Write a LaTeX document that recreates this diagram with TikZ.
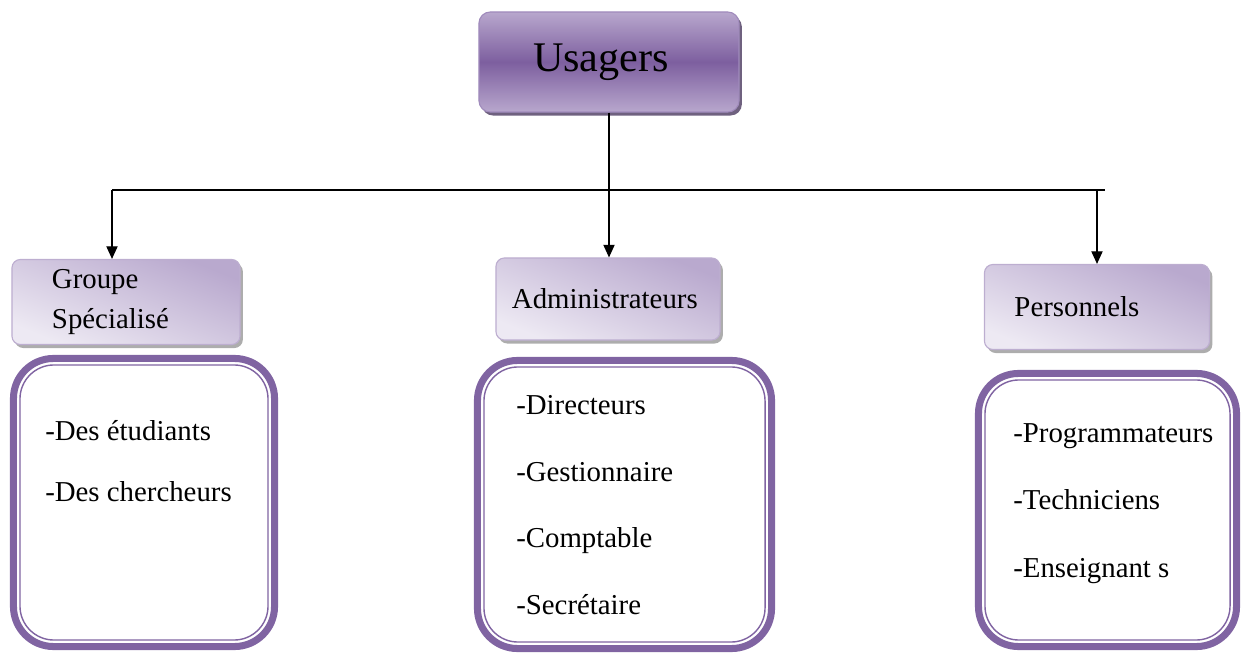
\documentclass[tikz,border=0pt]{standalone}
\usepackage{fontspec}
\setmainfont{Liberation Serif}
\usepackage{xcolor}
\usepackage{tikz}
\usetikzlibrary{arrows.meta,positioning,calc,shadows}

\definecolor{frameviolet}{HTML}{8064A2}
\definecolor{headlight}{HTML}{B8A7CD}
\definecolor{headdark}{HTML}{7D5F9F}
\definecolor{sublight}{HTML}{EDE9F3}
\definecolor{subdark}{HTML}{B9A9CE}
\definecolor{boxedge}{HTML}{A08BBC}

\begin{document}
\begin{tikzpicture}[
  x=0.025cm, y=-0.025cm,
  every node/.style={font=\fontsize{20.5}{28.5}\selectfont},
  headbox/.style={rectangle, draw=boxedge, line width=0.8pt, rounded corners=8pt,
    top color=headlight, bottom color=headlight, middle color=headdark,
    drop shadow={shadow xshift=2pt, shadow yshift=-2.5pt,
      fill=headdark!60!black, opacity=0.8},
    minimum width=6.5cm, minimum height=2.5cm,
    font=\fontsize{30}{36}\selectfont},
  subbox/.style={rectangle, draw=boxedge!70, line width=0.8pt, rounded corners=6pt,
    top color=subdark, bottom color=sublight, shading angle=-22,
    drop shadow={shadow xshift=2pt, shadow yshift=-2.5pt, fill=gray!80, opacity=0.8},
    align=left, inner ysep=0pt},
  frame/.style={rectangle, draw=frameviolet, line width=5pt, rounded corners=1cm,
    fill=white, outer sep=0pt},
  innerline/.style={draw=frameviolet, line width=1pt, rounded corners=0.85cm},
  itemlist/.style={anchor=north west, align=left, inner sep=0pt},
  link/.style={line width=0.9pt},
  arr/.style={-{Triangle[width=8pt,length=9pt]}, line width=0.9pt},
]
\useasboundingbox (0,0) rectangle (1243,655);

% Top box
\node[headbox] (usagers) at (609,62) {Usagers\hspace*{0.4cm}};

% Group boxes
\node[subbox, minimum width=5.7cm, minimum height=2.125cm,
  text width=3.7cm, inner xsep=1cm] (grpBox) at (126,302) {Groupe\\Spécialisé};
\node[subbox, minimum width=5.6cm, minimum height=2.05cm,
  text width=4.8cm, inner xsep=0.4cm] (admBox) at (608,299) {Administrateurs};
\node[subbox, minimum width=5.625cm, minimum height=2.125cm,
  text width=4.125cm, inner xsep=0.75cm] (persBox) at (1097,307) {Personnels};

% Member frames
\node[frame, minimum width=6.525cm, minimum height=7.2cm] (grpFrame) at (144,502.5) {};
\node[frame, minimum width=7.35cm, minimum height=7.2cm] (admFrame) at (624.5,504.5) {};
\node[frame, minimum width=6.45cm, minimum height=6.825cm] (persFrame) at (1107.5,510) {};

\draw[innerline] ($(grpFrame.north west)+(6.5,6.5)$) rectangle ($(grpFrame.south east)+(-6.5,-6.5)$);
\draw[innerline] ($(admFrame.north west)+(6.5,6.5)$) rectangle ($(admFrame.south east)+(-6.5,-6.5)$);
\draw[innerline] ($(persFrame.north west)+(6.5,6.5)$) rectangle ($(persFrame.south east)+(-6.5,-6.5)$);

% Members
\node[itemlist] (grpList) at (45,420) {-Des étudiants\\[15pt]-Des chercheurs};
\node[itemlist] (admList) at (516,395)
  {-Directeurs\\[19pt]-Gestionnaire\\[19pt]-Comptable\\[19pt]-Secrétaire};
\node[itemlist] (persList) at (1013,423)
  {-Programmateurs\\[19.5pt]-Techniciens\\[19.5pt]-Enseignant s};

% Connectors
\coordinate (busL) at (112,190);
\coordinate (busR) at (1105,190);
\draw[link] (usagers.south) -- (usagers.south |- busL);
\draw[link] (busL) -- (busR);
\draw[arr] (busL) -- (busL |- grpBox.north);
\draw[arr] (usagers.south |- busL) -- (usagers.south |- admBox.north);
\draw[arr] (persBox.north |- busL) -- (persBox.north);

\end{tikzpicture}
\end{document}
